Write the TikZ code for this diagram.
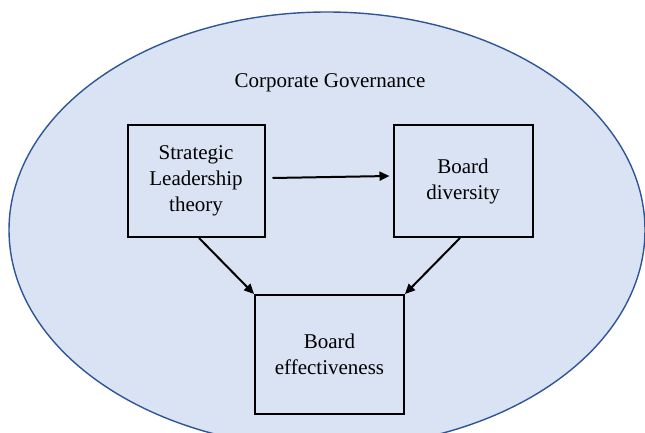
\documentclass[tikz,border=0pt]{standalone}
\usepackage{fontspec}
\setmainfont{Liberation Serif}
\usetikzlibrary{arrows.meta,positioning,calc}
\definecolor{cgFill}{HTML}{DAE3F3}
\definecolor{cgLine}{HTML}{2F5597}

\begin{document}
\begin{tikzpicture}[x=1pt, y=-1pt,
  cgbox/.style={draw=black, line width=2pt, fill=cgFill, align=center, minimum width=137pt, minimum height=112pt, inner sep=0pt, font=\fontsize{21}{26}\selectfont},
  arr/.style={-{Triangle[length=10pt,width=9pt]}, line width=2pt, color=black}
]
  \useasboundingbox (0,0) rectangle (645,433);
  \clip (0,0) rectangle (645,433);
  \fill[white] (0,0) rectangle (645,433);
  \draw[draw=cgLine, line width=1.4pt, fill=cgFill] (327,230) ellipse [x radius=318, y radius=218];
  \node[font=\fontsize{21}{26}\selectfont, anchor=base] (cg) at (330,88) {Corporate Governance};
  \node[cgbox] (slt) at (196,181) {Strategic\\Leadership\\theory};
  \node[cgbox, minimum width=139pt, right=127pt of slt] (bd) {Board\\diversity};
  \coordinate (mid) at ($(slt.south)!0.5!(bd.south)$);
  \node[cgbox, minimum width=149pt, minimum height=119pt, below=56pt of mid] (be) {Board\\effectiveness};
  \draw[arr] ([shift={(7,-3)}]slt.east) -- ([shift={(-3,-5)}]bd.west);
  \draw[arr] ([xshift=3pt]slt.south) -- (be.north west);
  \draw[arr] ([xshift=-3pt]bd.south) -- (be.north east);
\end{tikzpicture}
\end{document}
